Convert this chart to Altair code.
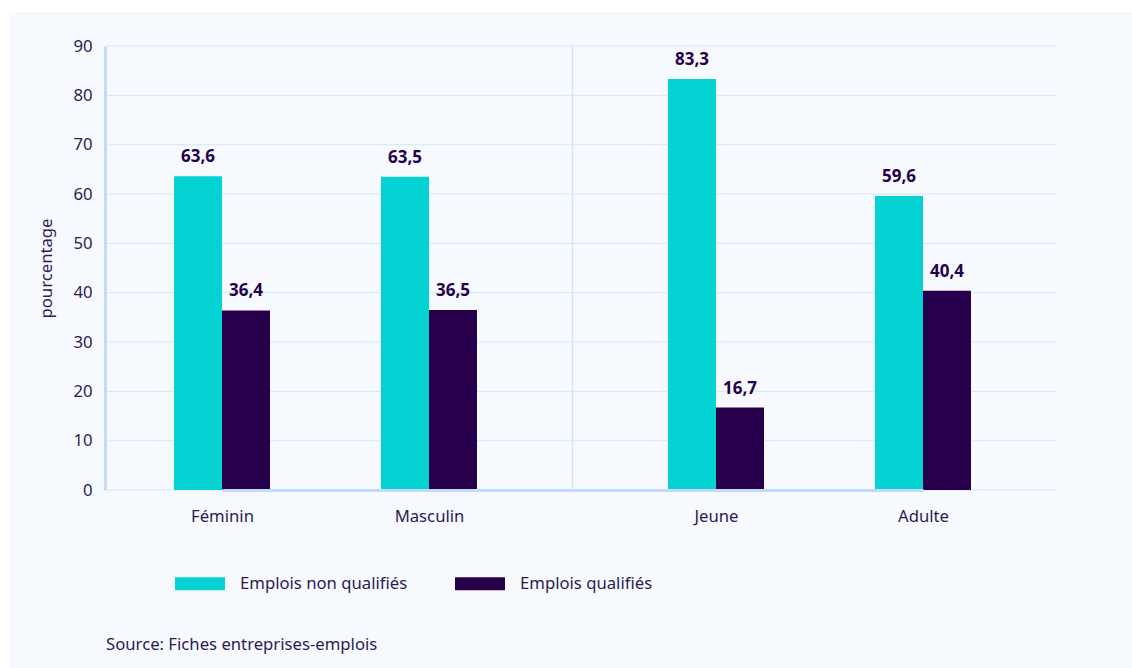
import json
import altair as alt
import pandas as pd

# ---- data ----
categories = ["Féminin", "Masculin", "Jeune", "Adulte"]
series_names = ["Emplois non qualifiés", "Emplois qualifiés"]
non_qualifies = [63.6, 63.5, 83.3, 59.6]
qualifies = [36.4, 36.5, 16.7, 40.4]
y_ticks = [0, 10, 20, 30, 40, 50, 60, 70, 80, 90]
source_text = "Source: Fiches entreprises-emplois"
y_title = "pourcentage"

colors = ["#05d3d3", "#27004b"]
text_col = "#2d1a55"
grid_col = "#d3e5f8"
axis_col = "#c3dbf6"
FONT = "Noto Sans"
FS = 16.7

rows = []
for i, c in enumerate(categories):
    for s, vals in zip(series_names, [non_qualifies, qualifies]):
        rows.append({"cat": c, "idx": i, "series": s, "value": vals[i],
                     "label": f"{vals[i]:.1f}".replace(".", ",")})
df = pd.DataFrame(rows)

W, H = 952, 444
x_scale = alt.Scale(domain=[0, 1, 2, 3], range=[117, 324, 611, 818],
                    nice=False, zero=False, padding=0)
y_scale = alt.Scale(domain=[0, 90], nice=False)
color_scale = alt.Scale(domain=series_names, range=colors)

label_expr = json.dumps(categories) + "[datum.value]"

bg = alt.Chart(alt.Data(values=[{}])).mark_rect(color="#f6faff").encode(
    x=alt.value(-96), x2=alt.value(1027), y=alt.value(-34), y2=alt.value(622)
)

grid = alt.Chart(pd.DataFrame({"t": y_ticks})).mark_rule(color=grid_col, strokeWidth=1).encode(
    y=alt.Y("t:Q", scale=y_scale), x=alt.value(0), x2=alt.value(W)
)

sep = alt.Chart(alt.Data(values=[{"x": 1.5, "y0": 0, "y1": 90}])).mark_rule(
    color=grid_col, strokeWidth=1.5
).encode(
    x=alt.X("x:Q", scale=x_scale), y=alt.Y("y0:Q", scale=y_scale), y2="y1:Q"
)

base = alt.Chart(df)

x_enc = alt.X(
    "idx:Q", scale=x_scale,
    axis=alt.Axis(values=[0, 1, 2, 3], labelExpr=label_expr, title=None, grid=False,
                  ticks=False, domainColor=axis_col, domainWidth=3, labelFontSize=FS,
                  labelColor=text_col, labelFont=FONT, labelPadding=18, zindex=1,
                  labelFlush=False, labelOverlap=False, labelAlign="center"),
)
y_enc = alt.Y(
    "value:Q", scale=y_scale,
    axis=alt.Axis(values=y_ticks, title=y_title, grid=False, ticks=False,
                  domainColor=axis_col, domainWidth=3, labelFontSize=FS,
                  labelColor=text_col, labelFont=FONT, labelPadding=13,
                  titleFont=FONT, titleFontSize=FS, titleFontWeight="normal",
                  titleColor=text_col, titlePadding=17, zindex=1, labelFlush=False),
)
color_enc = alt.Color("series:N", scale=color_scale, sort=series_names,
                      legend=alt.Legend(title=None))

bars = []
texts = []
for s, off in zip(series_names, [-24, 24]):
    sub = base.transform_filter(alt.datum.series == s)
    bars.append(sub.mark_bar(width=48, xOffset=off).encode(x=x_enc, y=y_enc, color=color_enc))
    texts.append(sub.mark_text(xOffset=off, dy=-14, baseline="alphabetic", fontSize=17,
                               fontWeight="bold", font=FONT, color="#27004b").encode(
        x=alt.X("idx:Q", scale=x_scale), y=alt.Y("value:Q", scale=y_scale), text="label:N"))

src = alt.Chart(alt.Data(values=[{"t": source_text}])).mark_text(
    align="left", baseline="middle", fontSize=FS, font=FONT, color=text_col
).encode(x=alt.value(1), y=alt.value(599), text="t:N")

chart = alt.layer(bg, grid, sep, *bars, *texts, src).properties(
    width=W, height=H,
    padding={"left": 9, "top": 12, "right": 0, "bottom": 0},
    background="white",
).configure_view(stroke=None).configure_legend(
    orient="none", legendX=70, legendY=512.5, direction="horizontal",
    symbolType="M-1,-0.26L1,-0.26L1,0.26L-1,0.26Z", symbolSize=2500,
    symbolStrokeWidth=0, symbolOpacity=1, labelFontSize=FS, labelFont=FONT,
    labelColor=text_col, labelOffset=15, columnPadding=47, labelLimit=400,
)

chart.save("out.html", embed_options={"renderer": "svg", "actions": False})
